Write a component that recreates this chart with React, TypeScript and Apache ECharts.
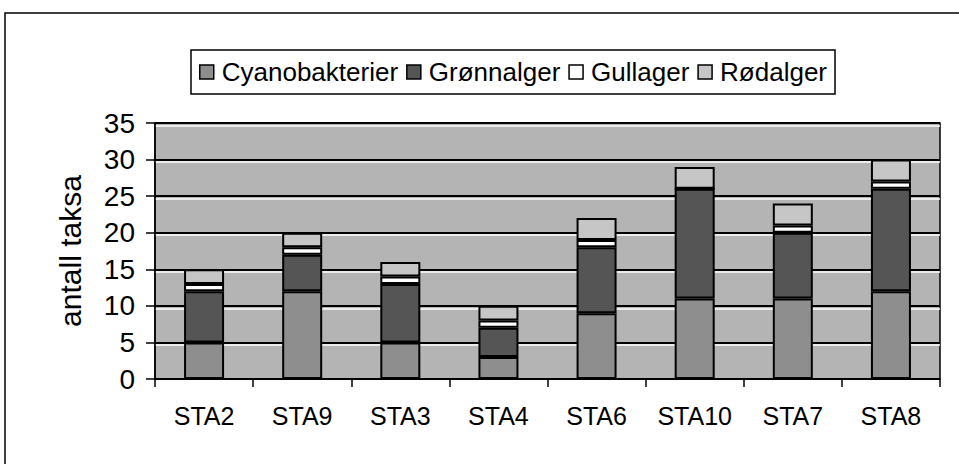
import React, { useEffect, useRef } from "react";
import * as echarts from "echarts";

const categories = ["STA2", "STA9", "STA3", "STA4", "STA6", "STA10", "STA7", "STA8"];
const cyanobakterier = [5, 12, 5, 3, 9, 11, 11, 12];
const gronnalger = [7, 5, 8, 4, 9, 15, 9, 14];
const gullager = [1, 1, 1, 1, 1, 0, 1, 1];
const rodalger = [2, 2, 2, 2, 3, 3, 3, 3];
const seriesNames = ["Cyanobakterier", "Grønnalger", "Gullager", "Rødalger"];
const seriesColors = ["#8e8e8e", "#555555", "#ffffff", "#c6c6c6"];

export default function App() {
  const ref = useRef<HTMLDivElement>(null);
  useEffect(() => {
    if (!ref.current) return;
    const chart = echarts.init(ref.current, undefined, { renderer: "svg" });
    const data = [cyanobakterier, gronnalger, gullager, rodalger];
    chart.setOption({
      animation: false,
      backgroundColor: "#ffffff",
      textStyle: { fontFamily: "Liberation Sans, Arial, sans-serif", color: "#000" },
      graphic: [
        {
          type: "rect",
          shape: { x: 5, y: 13, width: 1000, height: 500 },
          style: { fill: "none", stroke: "#000", lineWidth: 1.5 },
          silent: true,
        },
      ],
      legend: {
        left: 191,
        top: 50,
        data: seriesNames,
        icon: "rect",
        itemWidth: 14,
        itemHeight: 14,
        itemGap: 8,
        padding: [9, 8, 9, 8],
        borderColor: "#000",
        borderWidth: 1.5,
        backgroundColor: "#fff",
        itemStyle: { borderColor: "#000", borderWidth: 1.5 },
        textStyle: { fontSize: 26, color: "#000", padding: [0, 0, 0, 3] },
      },
      grid: [
        {
          left: 155,
          right: 19,
          top: 123,
          bottom: 85,
          show: true,
          backgroundColor: "#b4b4b4",
          borderColor: "#000",
          borderWidth: 1.5,
        },
        {
          left: 155,
          right: 19,
          top: 125.5,
          bottom: 82.5,
          show: false,
        },
      ],
      xAxis: [
        {
          type: "category",
          data: categories,
          gridIndex: 0,
          axisLine: { lineStyle: { color: "#000", width: 1.5 } },
          axisTick: { show: true, inside: false, length: 8, lineStyle: { color: "#000", width: 1.5 } },
          axisLabel: { fontSize: 25, color: "#000", margin: 24 },
          z: 3,
        },
        {
          type: "category",
          data: categories,
          gridIndex: 1,
          show: false,
        },
      ],
      yAxis: [
        {
          type: "value",
          gridIndex: 0,
          min: 0,
          max: 35,
          interval: 5,
          name: "antall taksa",
          nameLocation: "middle",
          nameGap: 70,
          nameTextStyle: { fontSize: 30, color: "#000" },
          axisLine: { show: true, lineStyle: { color: "#000", width: 1.5 } },
          axisTick: { show: true, inside: false, length: 9, lineStyle: { color: "#000", width: 1.5 } },
          axisLabel: { fontSize: 28, color: "#000", margin: 20 },
          splitLine: { show: true, lineStyle: { color: "#000", width: 2 } },
          z: 2,
        },
        {
          type: "value",
          gridIndex: 1,
          min: 0,
          max: 35,
          interval: 5,
          axisLine: { show: false },
          axisTick: { show: false },
          axisLabel: { show: false },
          splitLine: { show: true, lineStyle: { color: "#ffffff", width: 1.5 } },
          z: 1,
        },
      ],
      series: seriesNames.map((name, i) => ({
        name,
        type: "bar",
        stack: "total",
        barWidth: 40,
        data: data[i],
        z: 5,
        itemStyle: { color: seriesColors[i], borderColor: "#000", borderWidth: 2 },
      })),
    });
    return () => chart.dispose();
  }, []);
  return (
    <div
      ref={ref}
      style={{ position: "fixed", left: 0, top: 0, width: 959, height: 464 }}
    />
  );
}
